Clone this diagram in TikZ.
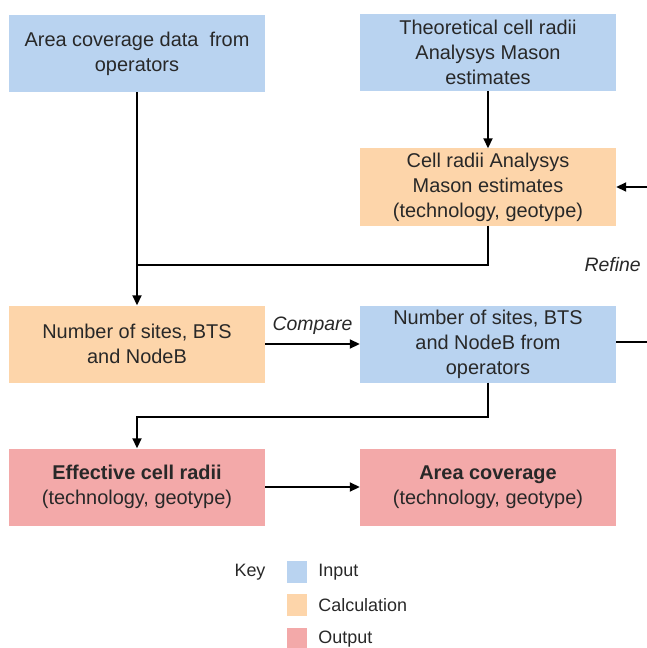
\documentclass[tikz,border=0pt]{standalone}
\usepackage{fontspec}
\setmainfont{Liberation Sans}
\usepackage{xcolor}
\usetikzlibrary{positioning,arrows.meta}

\definecolor{inblue}{RGB}{185,211,240}
\definecolor{calcorange}{RGB}{253,213,170}
\definecolor{outred}{RGB}{243,169,169}
\definecolor{txtgray}{RGB}{40,40,40}

\tikzset{
  box/.style={rectangle, minimum width=256bp, minimum height=77bp, align=center,
    text=txtgray, font=\fontsize{20}{25}\selectfont, inner sep=0pt},
  inbox/.style={box, fill=inblue},
  calcbox/.style={box, fill=calcorange},
  outbox/.style={box, fill=outred},
  arr/.style={line width=1.8bp, -{Triangle[length=10bp,width=9bp]}},
  link/.style={line width=1.8bp},
  swatch/.style={rectangle, minimum width=20bp, minimum height=22bp, inner sep=0pt},
  keytext/.style={text=txtgray, font=\fontsize{18}{20}\selectfont, inner sep=0pt},
  looptext/.style={text=txtgray, font=\fontsize{19.5}{22}\selectfont\itshape, inner sep=0pt}
}

\begin{document}
\begin{tikzpicture}[x=1bp, y=-1bp]
  \useasboundingbox (0,0) rectangle (647,648);

  % Boxes
  \node[inbox] (cov) at (137,53.5) {Area coverage data \ from\\operators};
  \node[inbox] (theo) at (488,52.5) {Theoretical cell radii\\Analysys Mason\\estimates};
  \node[calcbox] (radii) at (488,187) {Cell radii Analysys\\Mason estimates\\(technology, geotype)};
  \node[calcbox] (sites) at (137,344) {Number of sites, BTS\\and NodeB};
  \node[inbox] (opsites) at (488,344) {Number of sites, BTS\\and NodeB from\\operators};
  \node[outbox] (effrad) at (137,487) {\textbf{Effective cell radii}\\(technology, geotype)};
  \node[outbox] (areacov) at (488,487) {\textbf{Area coverage}\\(technology, geotype)};

  % Free ends of the refine loop
  \coordinate (join) at (137,265);
  \coordinate (loopin) at (647,187);
  \coordinate (loopout) at (647,342);

  % Connectors
  \draw[arr] (cov) -- (sites);
  \draw[arr] (theo) -- (radii);
  \draw[link] (radii.south) |- (join);
  \draw[arr] (sites) -- (opsites) node[midway, above=9bp, looptext] {Compare};
  \draw[arr] (opsites.south) -- ++(0,34) -| (effrad.north);
  \draw[arr] (effrad) -- (areacov);
  \draw[link] (opsites.east |- loopout) -- (loopout);
  \draw[arr] (loopin) -- (radii.east);
  \node[looptext, anchor=east] (refine) at (641,265) {Refine};

  % Key
  \node[keytext] (key) at (250,572) {Key};
  \node[swatch, fill=inblue] (kin) at (297,572) {};
  \node[swatch, fill=calcorange, below=11bp of kin] (kcalc) {};
  \node[swatch, fill=outred, below=11bp of kcalc] (kout) {};
  \node[keytext, right=11bp of kin] {Input};
  \node[keytext, right=11bp of kcalc] {Calculation};
  \node[keytext, right=11bp of kout] {Output};
\end{tikzpicture}
\end{document}
